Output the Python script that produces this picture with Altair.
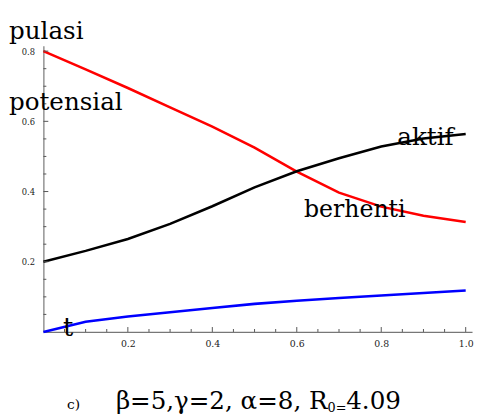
import altair as alt
import pandas as pd

# ---- data ----
T = [0.0, 0.1, 0.2, 0.3, 0.4, 0.5, 0.6, 0.7, 0.8, 0.9, 1.0]
BERHENTI = [0.80, 0.748, 0.695, 0.640, 0.585, 0.525, 0.457, 0.397, 0.357, 0.331, 0.313]
AKTIF = [0.200, 0.231, 0.265, 0.308, 0.358, 0.412, 0.458, 0.495, 0.528, 0.551, 0.564]
POTENSIAL = [0.0, 0.029, 0.044, 0.056, 0.068, 0.080, 0.089, 0.097, 0.104, 0.111, 0.118]
SERIES = ["berhenti", "aktif", "potensial"]
COLORS = ["#ff0000", "#000000", "#0000ff"]

X_LABELS = [0.2, 0.4, 0.6, 0.8, 1.0]
Y_LABELS = [0.2, 0.4, 0.6, 0.8]
X_MINOR = [0.05, 0.1, 0.15, 0.25, 0.3, 0.35, 0.45, 0.5, 0.55, 0.65, 0.7, 0.75, 0.85, 0.9, 0.95]
Y_MINOR = [0.05, 0.1, 0.15, 0.25, 0.3, 0.35, 0.45, 0.5, 0.55, 0.65, 0.7, 0.75]

X_DOMAIN = [0, 1.015]
Y_DOMAIN = [0, 0.815]

W, H = 436, 291
FONT = "DejaVu Serif"

rows = []
for name, vals in zip(SERIES, [BERHENTI, AKTIF, POTENSIAL]):
    for t, v in zip(T, vals):
        rows.append({"t": t, "v": v, "s": name})
df = pd.DataFrame(rows)

xs = alt.Scale(domain=X_DOMAIN, nice=False, zero=False)
ys = alt.Scale(domain=Y_DOMAIN, nice=False, zero=False)

lines = alt.Chart(df).mark_line(strokeWidth=2.6).encode(
    x=alt.X("t:Q", scale=xs, axis=alt.Axis(
        values=X_LABELS, format=".1f", title=None, grid=False, ticks=False,
        domainColor="#777777", domainWidth=1.2, labelFont=FONT, labelFontSize=9.5,
        labelColor="#222222", labelPadding=7)),
    y=alt.Y("v:Q", scale=ys, axis=alt.Axis(
        values=Y_LABELS, format=".1f", title=None, grid=False, ticks=False,
        domainColor="#777777", domainWidth=1.2, labelFont=FONT, labelFontSize=8.5,
        labelColor="#222222", labelPadding=9)),
    color=alt.Color("s:N", scale=alt.Scale(domain=SERIES, range=COLORS), legend=None),
    detail="s:N",
)

def xticks(vals, length):
    d = pd.DataFrame({"x": vals})
    return alt.Chart(d).mark_rule(color="#555555", strokeWidth=1).encode(
        x=alt.X("x:Q", scale=xs),
        y=alt.value(H), y2=alt.value(H - length))

def yticks(vals, length):
    d = pd.DataFrame({"y": vals})
    return alt.Chart(d).mark_rule(color="#555555", strokeWidth=1).encode(
        y=alt.Y("y:Q", scale=ys),
        x=alt.value(0), x2=alt.value(length))

def label(txt, x, y, size=25, align="left"):
    return alt.Chart(pd.DataFrame({"a": [txt]})).mark_text(
        font=FONT, fontSize=size, align=align, baseline="alphabetic", color="#000000"
    ).encode(text="a:N", x=alt.value(x), y=alt.value(y))

texts = [
    label("pulasi", -35, -7),
    label("potensial", -35, 65),
    label("aktif", 360, 101),
    label("berhenti", 265, 174, size=24),
    label("t", 20, 295, size=26),
    label("c)", 24, 369, size=14),
    label("β=5,γ=2, α=8, R", 289, 369, size=25, align="right"),
    label("0=", 289, 372, size=13),
    label("4.09", 308, 369, size=25),
]

chart = alt.layer(
    lines,
    xticks(X_MINOR, 3), xticks(X_LABELS, 5),
    yticks(Y_MINOR, 3), yticks(Y_LABELS, 5),
    *texts
).properties(
    width=W, height=H,
    autosize=alt.AutoSizeParams(type="none"),
    padding={"left": 36, "top": 35, "right": 2, "bottom": 84},
).configure_view(stroke=None)

chart.save("out.html", embed_options={"renderer": "svg", "actions": False})
